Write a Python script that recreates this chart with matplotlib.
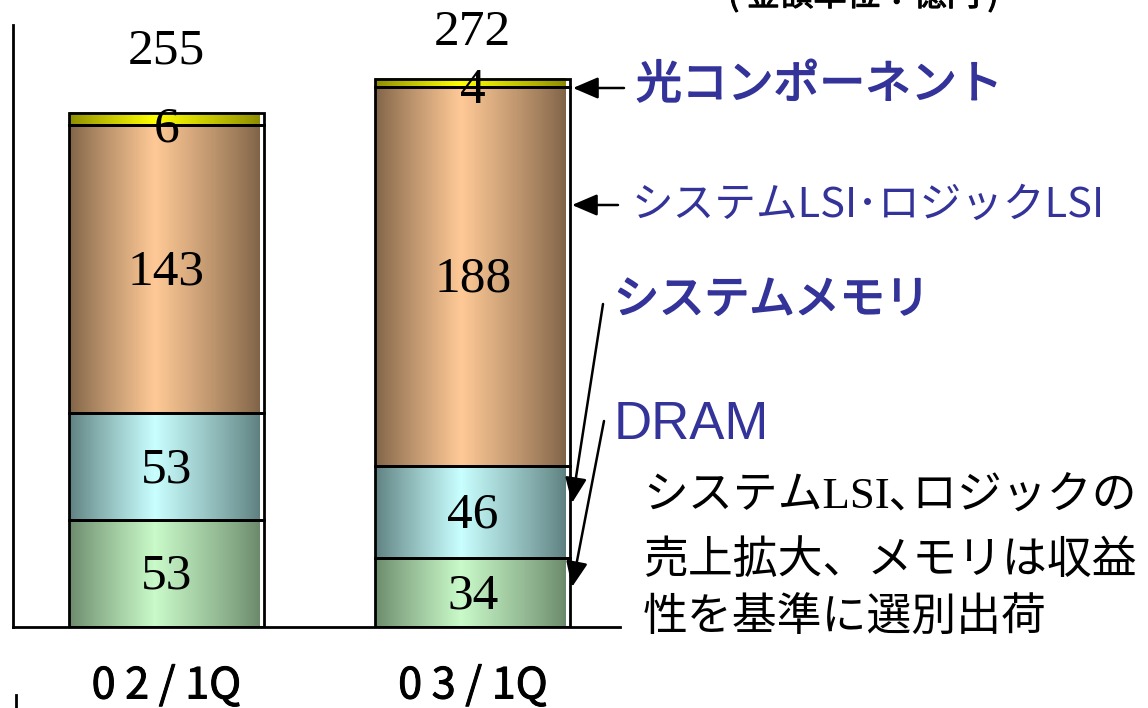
import numpy as np
import matplotlib.pyplot as plt
import matplotlib.patheffects as pe
from matplotlib.lines import Line2D

plt.rcParams['font.family'] = ['Noto Sans CJK JP', 'DejaVu Sans']

W, H = 1148, 708

# sales by product group (unit: 100M yen)
quarters = ['0 2 / 1Q', '0 3 / 1Q']
dram = [53, 34]
sys_mem = [53, 46]
sys_lsi = [143, 188]
optical = [6, 4]
totals = [255, 272]
total_pad = [31, 23]

# edge / centre colour of each stacked segment (cylinder shading)
shades = [((0.42, 0.54, 0.42), (0.79, 0.98, 0.79)),
          ((0.37, 0.50, 0.50), (0.79, 1.00, 1.00)),
          ((0.50, 0.39, 0.28), (1.00, 0.79, 0.59)),
          ((0.55, 0.55, 0.00), (1.00, 1.00, 0.00))]
blue = '#333399'


def cylinder(edge, centre, n=200, peak=0.45):
    t = np.linspace(0, 1, n)
    w = np.interp(t, [0, peak, 1], [0, 1, 0]) ** 0.9
    edge = np.array(edge)
    centre = np.array(centre)
    return (edge + (centre - edge) * w[:, None])[None, :, :]


def px(x, y):
    return (x / W, 1 - y / H)


def heavy(c, lw=1.0):
    return [pe.withStroke(linewidth=lw, foreground=c)]


fig = plt.figure(figsize=(W / 100, H / 100), dpi=100)
ax = fig.add_axes([13 / W, 81 / H, 607 / W, 602 / H])

x = np.arange(len(quarters))
width = 0.636
fill_w = 0.622
bottom = np.zeros(len(quarters))
for vals, (edge, centre) in zip([dram, sys_mem, sys_lsi, optical], shades):
    img = cylinder(edge, centre)
    for xi, b, v in zip(x, bottom, vals):
        ax.imshow(img, extent=[xi - width / 2, xi - width / 2 + fill_w, b, b + v],
                  aspect='auto', interpolation='bilinear', zorder=1)
        ty = b + v / 2 - 1.5 if v > 20 else b - 2
        ax.text(xi, ty, str(v), ha='center', va='center', fontsize=37,
                family='Liberation Serif', zorder=4)
    ax.bar(x, vals, width, bottom=bottom, fill=False, edgecolor='black',
           linewidth=2, zorder=3)
    bottom += vals

for xi, t, p in zip(x, totals, total_pad):
    ax.text(xi, t + p, str(t), ha='center', va='center', fontsize=37,
            family='Liberation Serif')

ax.set_xlim(-0.5, 1.48)
ax.set_ylim(0, 298.8)
ax.set_yticks([])
ax.set_xticks(x, quarters, fontsize=31)
for lab in ax.get_xticklabels():
    lab.set_path_effects(heavy('black', 0.7))
ax.tick_params(axis='x', length=0, pad=27)
for s in ['top', 'right']:
    ax.spines[s].set_visible(False)
ax.spines['left'].set_linewidth(2)
ax.spines['bottom'].set_linewidth(2)

arrow = dict(arrowstyle='-|>,head_length=0.7,head_width=0.3', color='black',
             lw=1.8, mutation_scale=22, shrinkA=0, shrinkB=0)
ax.annotate('', xy=px(573, 88), xytext=px(624, 88), xycoords='figure fraction',
            arrowprops=arrow)
ax.annotate('', xy=px(572, 205), xytext=px(618, 205), xycoords='figure fraction',
            arrowprops=arrow)
ax.annotate('', xy=px(572, 503), xytext=px(603, 304), xycoords='figure fraction',
            arrowprops=arrow)
ax.annotate('', xy=px(572, 587), xytext=px(604, 421), xycoords='figure fraction',
            arrowprops=arrow)

fig.text(*px(636, 85), '光コンポーネント', ha='left', va='center', fontsize=33,
         color=blue, path_effects=heavy(blue, 1.2))
fig.text(*px(632, 205), 'システムLSI･ロジックLSI', ha='left', va='center',
         fontsize=30, color=blue)
fig.text(*px(614, 300), 'システムメモリ', ha='left', va='center', fontsize=32.5,
         color=blue, path_effects=heavy(blue, 1.3))
fig.text(*px(614, 425), 'DRAM', ha='left', va='center', fontsize=38,
         color=blue, family='Liberation Sans')

notes = ['システムLSI､ロジックの', '売上拡大、メモリは収益', '性を基準に選別出荷']
for line, y in zip(notes, [497, 561, 618]):
    fig.text(*px(643, y), line, ha='left', va='center', fontsize=32.3,
             family=['Liberation Serif', 'Noto Sans CJK JP'])

fig.text(*px(728, -4), '( 金額単位：億円 )', ha='left', va='center', fontsize=24,
         path_effects=heavy('black', 0.8))
fig.add_artist(Line2D([16 / W, 16 / W], [0, 13 / H], color='black', lw=2))

fig.savefig('out.png', dpi=100)
